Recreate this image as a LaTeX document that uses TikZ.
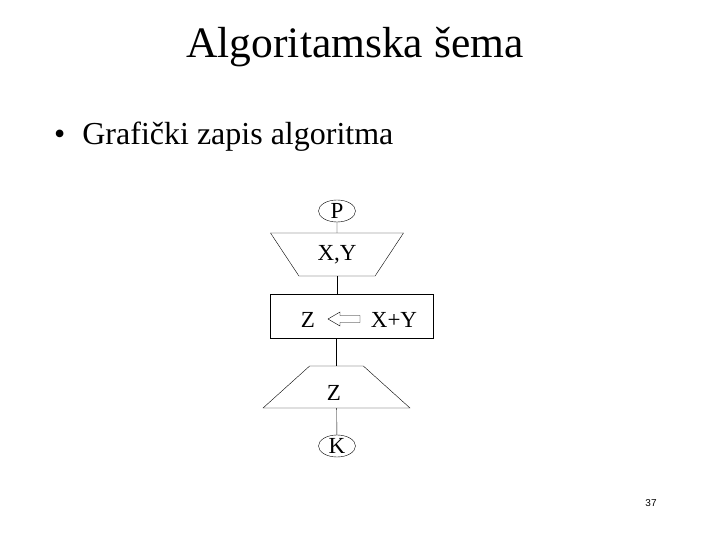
\documentclass[tikz,border=0pt]{standalone}
\usepackage{fontspec}
\setmainfont{Liberation Serif}
\newfontfamily\numfont{Liberation Sans}
\usetikzlibrary{shapes.geometric, arrows.meta, positioning}

\begin{document}
\begin{tikzpicture}[x=1pt,y=-1pt, e/.style={ellipse,draw,thin,inner sep=0pt,minimum width=37pt,minimum height=22pt,font=\fontsize{23}{23}\selectfont}, ul/.style={trapezium,draw,thin,trapezium stretches=true,inner sep=0pt,minimum height=43pt,font=\fontsize{23}{23}\selectfont}, r/.style={rectangle,draw,thin,inner sep=0pt,minimum width=163pt,minimum height=44pt}, txt/.style={font=\fontsize{23}{23}\selectfont,inner sep=0pt}, ln/.style={thin}]
  \useasboundingbox (0,0) rectangle (720,540);
  \node[font=\fontsize{43.5}{43.5}\selectfont,inner sep=0pt,anchor=base] (nas) at (355,58){Algoritamska šema};
  \node[font=\fontsize{32}{32}\selectfont,inner sep=0pt,anchor=base west] (tac) at (54,145){•\hspace{17pt}Grafički zapis algoritma};
  \node[e](p) at (337,211){P};
  \node[ul,trapezium angle=52,minimum width=134pt,shape border rotate=180](ul1) at (337,254.5){X,Y};
  \node[r](obr) at (351.5,316){};
  \node[txt](zl) at (308,320){Z};
  \coordinate (str) at (344,319);
  \draw[thin] ([xshift=-16pt]str) -- ++(12,-7) -- ++(0,3.5) -- ++(20,0) -- ++(0,7) -- ++(-20,0) -- ++(0,3.5) -- cycle;
  \node[txt](zd) at (394,320){X+Y};
  \node[ul,trapezium angle=51,minimum width=147pt,minimum height=42pt](iz) at (336.5,387){\phantom{Z}};
  \node[txt](izt) at (334,393){Z};
  \node[e](k) at (337,446){K};
  \draw[ln](p)--(ul1);
  \draw[ln](ul1.south)--(ul1.south |- obr.north);
  \draw[ln](iz.north |- obr.south)--(iz.north);
  \draw[ln](iz)--(k);
  \node[font=\numfont\fontsize{10}{10}\selectfont,inner sep=0pt] (br) at (651,503){37};
\end{tikzpicture}
\end{document}
